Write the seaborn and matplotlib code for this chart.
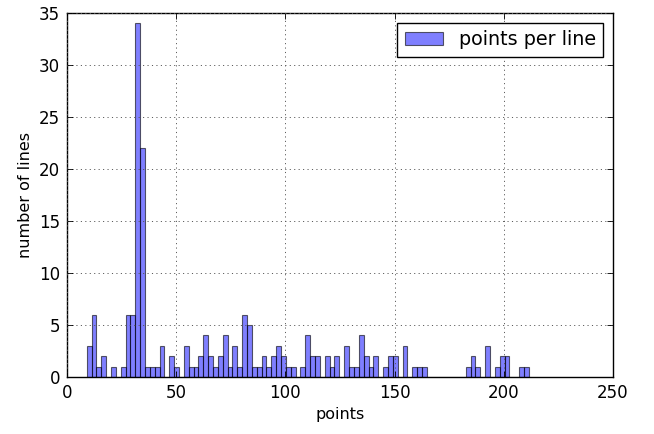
import numpy as np
import pandas as pd
import matplotlib
matplotlib.use("Agg")
import matplotlib.pyplot as plt
import seaborn as sns

# Histogram data (counts per bin)
bin_start = 9.0
bin_width = 2.225
counts = [3, 6, 1, 2, 0, 1, 0, 1, 6, 6,
          34, 22, 1, 1, 1, 3, 0, 2, 1, 0,
          3, 1, 1, 2, 4, 2, 1, 2, 4, 1,
          3, 1, 6, 5, 1, 1, 2, 1, 2, 3,
          2, 1, 1, 0, 1, 4, 2, 2, 0, 2,
          1, 2, 0, 3, 1, 1, 4, 2, 1, 2,
          0, 1, 2, 2, 0, 3, 0, 1, 1, 1,
          0, 0, 0, 0, 0, 0, 0, 0, 1, 2,
          1, 0, 3, 0, 1, 2, 2, 0, 0, 1,
          1]
x_ticks = [0, 50, 100, 150, 200, 250]
y_ticks = [0, 5, 10, 15, 20, 25, 30, 35]
series_label = "points per line"
x_label = "points"
y_label = "number of lines"

edges = bin_start + bin_width * np.arange(len(counts) + 1)
centers = edges[:-1] + bin_width / 2
df = pd.DataFrame({"points": centers, "count": counts})

sns.set_theme(style="white")
plt.rcParams["font.family"] = ["DejaVu Sans"]
plt.rcParams.update({
    "xtick.direction": "in", "ytick.direction": "in",
    "xtick.top": True, "ytick.right": True,
    "xtick.bottom": True, "ytick.left": True,
    "xtick.major.size": 4, "ytick.major.size": 4,
    "xtick.major.width": 0.6, "ytick.major.width": 0.6,
    "axes.edgecolor": "black", "axes.linewidth": 1.0,
    "xtick.color": "black", "ytick.color": "black",
    "text.color": "black", "axes.labelcolor": "black",
    "lines.scale_dashes": False,
})

fig = plt.figure(figsize=(6.54, 4.34), dpi=100)
ax = fig.add_axes([67 / 654, 1 - 377 / 434, (613 - 67) / 654, (377 - 13) / 434])

sns.histplot(data=df, x="points", weights="count", bins=list(edges),
             facecolor=(0.0, 0.0, 1.0, 0.5), edgecolor=(0.0, 0.0, 0.0, 0.6),
             linewidth=0.8, label=series_label, ax=ax)

ax.set_xlim(0, 250)
ax.set_ylim(0, 35)
ax.set_xticks(x_ticks)
ax.set_yticks(y_ticks)
ax.tick_params(labelsize=12, pad=5)
ax.grid(True, color="0.35", linestyle=(0, (0.8, 2.4)), linewidth=0.7)
ax.set_axisbelow(False)
ax.set_xlabel(x_label, fontsize=11.5)
ax.set_ylabel(y_label, fontsize=11.5)
leg = ax.legend(loc="upper right", fontsize=13.8, fancybox=False, frameon=True,
                edgecolor="black", framealpha=1.0, borderaxespad=0.5)
leg.get_frame().set_linewidth(1.0)

fig.savefig("out.png", dpi=100, facecolor="white")
